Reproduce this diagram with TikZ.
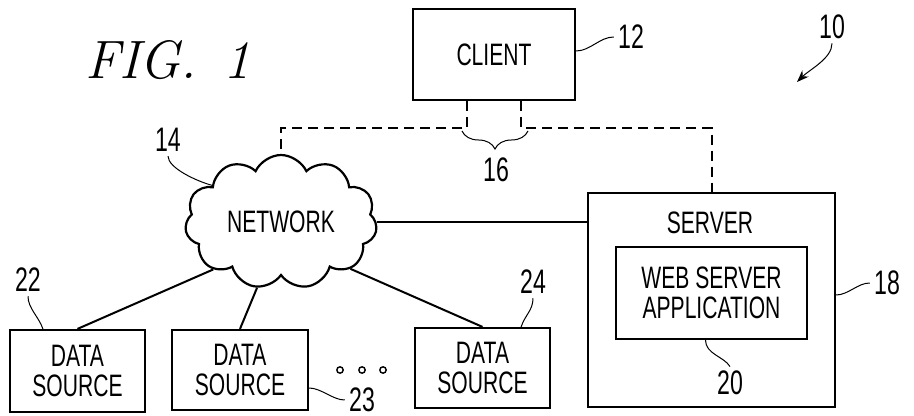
\documentclass[tikz,border=0pt]{standalone}
\usepackage{fontspec}
\newfontfamily\patfont[FakeStretch=0.68]{Liberation Sans}
\usetikzlibrary{arrows.meta, shapes.symbols, decorations.pathreplacing}

\begin{document}
\begin{tikzpicture}[x=0.5pt, y=-0.5pt,
    txt/.style={inner sep=0pt, align=center, font=\patfont\fontsize{15.5}{15}\selectfont},
    box/.style={txt, draw, line width=1.1pt},
    num/.style={inner sep=2pt, font=\patfont\fontsize{17}{17}\selectfont},
    lead/.style={line width=0.5pt},
    link/.style={line width=1pt},
    bus/.style={line width=1pt, dash pattern=on 5pt off 3pt}]
  \useasboundingbox (0,0) rectangle (914,416);
  \node[font=\itshape\fontsize{27}{27}\selectfont] (fig) at (168,60) {FIG.\enspace 1};
  \node[box, minimum width=81pt, minimum height=45.5pt] (client) at (494,54.5) {CLIENT};
  \node[box, cloud, cloud puffs=11, cloud puff arc=130, aspect=1.4, minimum width=96pt, minimum height=67pt] (net) at (281,222) {NETWORK};
  \node[box, minimum width=123.5pt, minimum height=107pt] (server) at (711.5,300) {};
  \node[txt] (srvtxt) at (710,223) {SERVER};
  \node[box, minimum width=95.5pt, minimum height=46pt] (app) at (711.5,293) {WEB SERVER\\APPLICATION};
  \node[box, minimum width=67.5pt, minimum height=41pt] (ds1) at (77.5,371) {DATA\\SOURCE};
  \node[box, minimum width=68pt, minimum height=40pt] (ds2) at (240,370) {DATA\\SOURCE};
  \node[box, minimum width=67.5pt, minimum height=40pt] (ds3) at (482.5,368) {DATA\\SOURCE};
  \foreach \x [count=\i] in {340,362,383}
    \node[draw, circle, line width=0.7pt, inner sep=0pt, minimum size=3.2pt] (dot\i) at (\x,370) {};

  % reference numbers
  \node[num] (n10) at (832,27) {10};
  \node[num] (n12) at (631,37) {12};
  \node[num] (n14) at (168,140) {14};
  \node[num] (n16) at (496,170) {16};
  \node[num] (n18) at (887,283) {18};
  \node[num] (n20) at (730,383) {20};
  \node[num] (n22) at (28,280) {22};
  \node[num] (n23) at (362,400) {23};
  \node[num] (n24) at (533,282) {24};
  \coordinate (sysTip) at (797,82);

  % connections
  \draw[bus] ([xshift=-13.5pt]client.south) -- ++(0,27) -| (net.north);
  \draw[bus] ([xshift=13.5pt]client.south) -- ++(0,27) -| (server.north);
  \draw[link] (net.east) -- (net.east -| server.west);
  \draw[link] (net.215) -- (ds1.north);
  \draw[link] (net.250) -- (ds2.north);
  \draw[link] (net.326) -- (ds3.north);

  % leaders
  \draw[lead, -{Stealth[length=6pt, width=4.5pt]}] (n10.south) .. controls +(0,15) and +(12,-12) .. (sysTip);
  \draw[lead] ([yshift=1.75pt]client.east) .. controls +(14,0) and +(-14,0) .. (n12.west);
  \draw[lead] (n14.south) .. controls +(0,12) and +(-15,-4) .. (net.152);
  \draw[lead, decorate, decoration={brace, amplitude=9pt}] (528,131) -- (462,131);
  \draw[lead] ([yshift=2.5pt]server.east) .. controls +(12,0) and +(-12,0) .. (n18.west);
  \draw[lead] ([xshift=-3pt]app.south) .. controls +(0,14) and +(-6,-10) .. (n20.north);
  \draw[lead] (n22.south) .. controls +(0,12) and +(-4,-12) .. ([xshift=17pt]ds1.north west);
  \draw[lead] ([yshift=-9pt]ds2.east) .. controls +(12,0) and +(-12,0) .. (n23.west);
  \draw[lead] (n24.south) .. controls +(0,12) and +(4,-12) .. ([xshift=-15pt]ds3.north east);
\end{tikzpicture}
\end{document}
